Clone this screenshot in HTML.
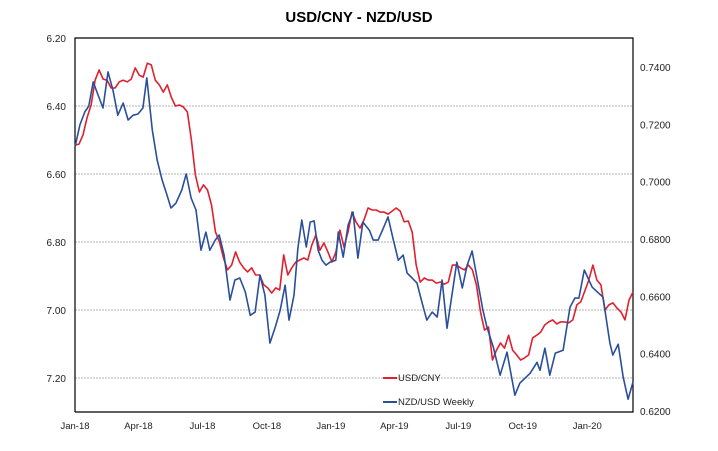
<!DOCTYPE html>
<html><head><meta charset="utf-8">
<style>
html,body{margin:0;padding:0;background:#fff;}
svg{display:block;font-family:"Liberation Sans",sans-serif;}
</style></head>
<body>
<svg id="chart" width="718" height="451" viewBox="0 0 718 451" xmlns="http://www.w3.org/2000/svg">
<text x="359" y="22" text-anchor="middle" font-size="15" font-weight="bold" fill="#000">USD/CNY - NZD/USD</text>
<g id="grid"></g>
<g id="axes"></g>
<g id="series"></g>
<g>
<line x1="383" y1="378" x2="397" y2="378" stroke="#e0202e" stroke-width="2"/>
<text x="398" y="381" font-size="9.5" fill="#222">USD/CNY</text>
<line x1="383" y1="402" x2="397" y2="402" stroke="#2a4f9a" stroke-width="2"/>
<text x="398" y="405" font-size="9.5" fill="#222">NZD/USD Weekly</text>
</g>
</svg>
<script>
const xTickLabels = ["Jan-18","Apr-18","Jul-18","Oct-18","Jan-19","Apr-19","Jul-19","Oct-19","Jan-20"];
const xTickWeeks = [0,12.9,25.9,39,52,64.9,77.9,91,104.1];
const leftTicks = [6.20,6.40,6.60,6.80,7.00,7.20];
const rightTicks = [0.6200,0.6400,0.6600,0.6800,0.7000,0.7200,0.7400];
const redValues = [6.515,6.512,6.485,6.435,6.397,6.324,6.294,6.321,6.324,6.347,6.347,6.329,6.324,6.329,6.321,6.288,6.309,6.315,6.274,6.279,6.324,6.338,6.359,6.338,6.374,6.400,6.397,6.403,6.418,6.500,6.603,6.653,6.632,6.647,6.691,6.771,6.800,6.847,6.882,6.868,6.829,6.859,6.876,6.888,6.876,6.897,6.897,6.926,6.935,6.950,6.935,6.941,6.838,6.897,6.876,6.859,6.853,6.847,6.853,6.809,6.779,6.824,6.803,6.829,6.859,6.829,6.765,6.815,6.771,6.712,6.741,6.759,6.735,6.700,6.706,6.706,6.712,6.712,6.718,6.709,6.700,6.709,6.741,6.738,6.771,6.868,6.918,6.906,6.912,6.912,6.921,6.918,6.924,6.918,6.868,6.868,6.876,6.882,6.868,6.882,6.926,7.006,7.059,7.050,7.147,7.118,7.097,7.112,7.074,7.118,7.132,7.147,7.141,7.132,7.082,7.074,7.065,7.044,7.035,7.029,7.041,7.035,7.035,7.038,7.029,6.985,6.976,6.944,6.912,6.868,6.912,6.926,7.000,6.985,6.979,6.994,7.006,7.029,6.971,6.947];
const blueWeeks = [0,1,2,2.8,3.7,4.7,5.7,6.7,7.7,8.7,9.8,10.8,11.8,12.8,13.8,14.6,15.7,16.7,17.7,18.7,19.5,20.5,21.7,22.6,23.6,24.6,25.6,26.6,27.4,28.5,29.3,30.3,31.5,32.5,33.5,34.6,35.6,36.6,37.6,38.6,39.6,40.7,41.7,42.7,43.5,44.5,45.3,46.1,47.0,47.8,48.6,49.4,50.2,51.0,51.8,53.0,53.5,54.5,55.5,56.5,57.5,58.5,59.8,60.6,61.6,62.6,63.6,64.6,65.7,66.7,67.5,68.5,69.5,70.5,71.5,72.6,73.6,74.6,75.6,76.6,77.6,78.7,79.7,80.7,81.9,82.9,83.7,85.0,86.4,87.8,89.4,90.4,92.5,93.9,94.5,95.5,96.5,97.6,99.2,100.6,101.6,102.4,103.5,105.1,107.3,108.7,109.3,110.4,111.4,112.4,113.4];
const blueValues = [0.7121,0.7198,0.7243,0.7264,0.7348,0.7302,0.7257,0.7383,0.7320,0.7232,0.7274,0.7215,0.7232,0.7236,0.7257,0.7362,0.7180,0.7075,0.7006,0.6953,0.6908,0.6925,0.6971,0.7027,0.6943,0.6901,0.6761,0.6824,0.6761,0.6796,0.6814,0.6744,0.6587,0.6657,0.6664,0.6615,0.6534,0.6545,0.6674,0.6604,0.6437,0.6493,0.6552,0.6639,0.6517,0.6604,0.6768,0.6866,0.6772,0.6859,0.6863,0.6761,0.6726,0.6709,0.6719,0.6726,0.6824,0.6737,0.6849,0.6894,0.6733,0.6859,0.6831,0.6796,0.6796,0.6835,0.6877,0.6803,0.6726,0.6744,0.6681,0.6664,0.6646,0.6580,0.6517,0.6545,0.6528,0.6657,0.6489,0.6604,0.6719,0.6629,0.6709,0.6758,0.6646,0.6552,0.6493,0.6423,0.6325,0.6405,0.6255,0.6297,0.6332,0.6370,0.6342,0.6419,0.6325,0.6402,0.6412,0.6562,0.6594,0.6594,0.6692,0.6632,0.6597,0.6437,0.6395,0.6433,0.6318,0.6241,0.6301];

const NS="http://www.w3.org/2000/svg";
const L=75,R=633,T=38,B=412;
const lastWeek=113.4;
function xW(w){return L+(w/lastWeek)*(R-L);}
function yL(v){return T+(v-6.20)/1.10*(B-T);}
function yR(v){return 67+(0.74-v)/0.12*344;}
function mk(tag,attrs,parent){const e=document.createElementNS(NS,tag);for(const k in attrs)e.setAttribute(k,attrs[k]);parent.appendChild(e);return e;}
const grid=document.getElementById('grid'),axes=document.getElementById('axes'),series=document.getElementById('series');
leftTicks.forEach((v,i)=>{
  const y=yL(v);
  if(i>0){const g=mk('line',{x1:L,x2:R,y1:y,y2:y,stroke:'#b5b5b5','stroke-width':1,'stroke-dasharray':'2,1'},grid);
  
  }
  const t=mk('text',{x:66,y:y+4,'text-anchor':'end','font-size':10,fill:'#222'},axes);
  t.textContent=v.toFixed(2);
  
  
});
rightTicks.forEach(v=>{
  const y=yR(v);
  const t=mk('text',{x:640,y:y+4,'font-size':10,fill:'#222'},axes);
  t.textContent=v.toFixed(4);
  
  
});
xTickLabels.forEach((s,i)=>{
  const t=mk('text',{x:xW(xTickWeeks[i]),y:429,'text-anchor':'middle','font-size':9.5,fill:'#222'},axes);
  t.textContent=s;
  
  
});
const frame=mk('path',{d:`M${L},${B}V${T}H${R}V${B}H${L}`,fill:'none',stroke:'#000','stroke-width':1.2},axes);


let d='';
redValues.forEach((v,i)=>{const x=L+i*(R-L)/(redValues.length-1);d+=(i?'L':'M')+x.toFixed(1)+','+yL(v).toFixed(1);});
const red=mk('path',{d:d,fill:'none',stroke:'#e0202e','stroke-width':1.6,'stroke-linejoin':'round'},series);


d='';
blueValues.forEach((v,i)=>{d+=(i?'L':'M')+xW(blueWeeks[i]).toFixed(1)+','+yR(v).toFixed(1);});
const blue=mk('path',{d:d,fill:'none',stroke:'#2a4f9a','stroke-width':1.6,'stroke-linejoin':'round'},series);


</script>
</body></html>
